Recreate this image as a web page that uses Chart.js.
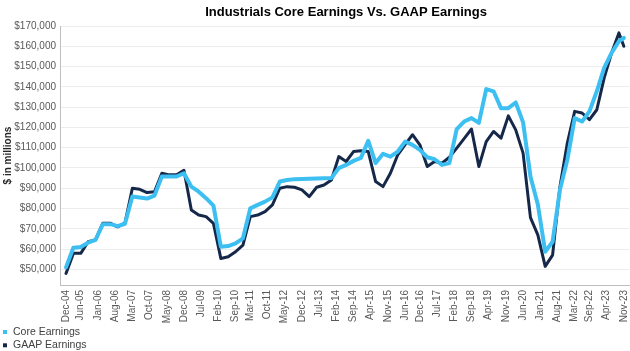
<!DOCTYPE html>
<html><head><meta charset="utf-8">
<script src="https://cdn.jsdelivr.net/npm/chart.js@4.4.0/dist/chart.umd.min.js"></script>
<style>html,body{margin:0;padding:0;background:#fff}#wrap{width:630px;height:351px}</style>
</head><body><div id="wrap"><canvas id="c" width="630" height="351"></canvas></div>
<script>
const chartTitle = 'Industrials Core Earnings Vs. GAAP Earnings';
const yAxisTitle = '$ in millions';
const seriesNames = ['Core Earnings', 'GAAP Earnings'];

const dates = [
 'Dec-04',
 'Mar-05','Jun-05','Sep-05','Dec-05','Mar-06','Jun-06','Sep-06','Dec-06',
 'Mar-07','Jun-07','Sep-07','Dec-07','Mar-08','Jun-08','Sep-08','Dec-08',
 'Mar-09','Jun-09','Sep-09','Dec-09','Mar-10','Jun-10','Sep-10','Dec-10',
 'Mar-11','Jun-11','Sep-11','Dec-11','Mar-12','Jun-12','Sep-12','Dec-12',
 'Mar-13','Jun-13','Sep-13','Dec-13','Mar-14','Jun-14','Sep-14','Dec-14',
 'Mar-15','Jun-15','Sep-15','Dec-15','Mar-16','Jun-16','Sep-16','Dec-16',
 'Mar-17','Jun-17','Sep-17','Dec-17','Mar-18','Jun-18','Sep-18','Dec-18',
 'Mar-19','Jun-19','Sep-19','Dec-19','Mar-20','Jun-20','Sep-20','Dec-20',
 'Mar-21','Jun-21','Sep-21','Dec-21','Mar-22','Jun-22','Sep-22','Dec-22',
 'Mar-23','Jun-23','Sep-23','Nov-23'
];

const coreEarnings = [51000,60700,61000,63200,64500,72300,72300,71300,72500,85900,
 85400,84900,86400,95800,95800,95800,97400,90800,88300,85100,
 81400,61200,61500,62800,65300,80100,81800,83400,85500,93300,
 94100,94500,94600,94700,94800,94900,95000,99900,101500,103500,
 105000,113400,102400,107000,105600,108100,113000,111400,108900,105300,
 104300,101500,102400,119200,122900,124600,122200,138900,137800,129500,
 129500,132300,122500,95800,82000,58700,63600,89200,104000,124600,
 122900,127900,137800,149400,156700,162500,164100];

const gaapEarnings = [48000,57900,57900,63600,64500,72800,72800,71000,72800,90000,
 89500,87900,88300,97400,96600,96600,98900,79300,76800,76000,
 72700,55400,56200,58700,62000,76000,76800,78500,81800,90000,
 90800,90500,89200,85900,90500,91600,94100,105600,103200,108100,
 108500,108100,93300,90800,97400,106500,111500,116400,111400,100700,
 103200,102400,105300,109800,114500,119200,100700,113000,118000,114700,
 125700,118800,107300,75500,67000,51500,57000,90800,112300,127900,
 127100,123800,128700,144400,156700,166600,160000];

const xTickLabels = ['Dec-04','Jun-05','Jan-06','Aug-06','Mar-07','Oct-07','May-08','Dec-08',
 'Jul-09','Feb-10','Sep-10','Mar-11','Oct-11','May-12','Dec-12','Jul-13','Feb-14','Sep-14',
 'Apr-15','Nov-15','Jun-16','Dec-16','Jul-17','Feb-18','Sep-18','Apr-19','Nov-19','Jun-20',
 'Jan-21','Aug-21','Mar-22','Sep-22','Apr-23','Nov-23'];

const yTickValues = [50000,60000,70000,80000,90000,100000,110000,120000,130000,140000,150000,160000,170000];

const CORE_COLOR = '#3DBFF2';
const GAAP_COLOR = '#16284A';
const FONT = '"Liberation Sans", Arial, sans-serif';

const MONTHS = ['Jan','Feb','Mar','Apr','May','Jun','Jul','Aug','Sep','Oct','Nov','Dec'];
function monthIdx(s){
  const m = MONTHS.indexOf(s.slice(0,3));
  const y = 2000 + parseInt(s.slice(4), 10);
  return (y - 2004) * 12 + m - 11;
}
const xs = dates.map(monthIdx);
const tickLookup = {};
xTickLabels.forEach(l => { tickLookup[monthIdx(l)] = l; });

const titlePlugin = {
  id: 'customTitle',
  afterDraw(chart){
    const c = chart.ctx;
    c.save();
    c.font = 'bold 13px ' + FONT;
    c.fillStyle = '#000000';
    c.textAlign = 'center';
    c.textBaseline = 'middle';
    c.fillText(chartTitle, 346, 12);
    c.restore();
  }
};

const legendPlugin = {
  id: 'customLegend',
  afterDraw(chart){
    const c = chart.ctx;
    c.save();
    c.font = '10.5px ' + FONT;
    c.textBaseline = 'middle';
    c.textAlign = 'left';
    chart.data.datasets.forEach((ds, i) => {
      const y = 332 + i * 13.3;
      c.fillStyle = ds.borderColor;
      c.fillRect(3, y - 2, 4, 4);
      c.fillStyle = '#404040';
      c.fillText(ds.label, 13, y);
    });
    c.restore();
  }
};

new Chart(document.getElementById('c'), {
  type: 'line',
  data: {
    datasets: [
      { label: seriesNames[0], data: xs.map((x, i) => ({x: x, y: coreEarnings[i]})),
        borderColor: CORE_COLOR, backgroundColor: CORE_COLOR, borderWidth: 4, pointRadius: 0,
        tension: 0, borderJoinStyle: 'round', borderCapStyle: 'round', fill: false },
      { label: seriesNames[1], data: xs.map((x, i) => ({x: x, y: gaapEarnings[i]})),
        borderColor: GAAP_COLOR, backgroundColor: GAAP_COLOR, borderWidth: 3, pointRadius: 0,
        tension: 0, borderJoinStyle: 'round', borderCapStyle: 'round', fill: false }
    ]
  },
  options: {
    responsive: false,
    animation: false,
    devicePixelRatio: 1,
    layout: { padding: { top: 26, right: 1, bottom: 26, left: 0 } },
    plugins: { legend: { display: false }, title: { display: false }, tooltip: { enabled: false } },
    scales: {
      x: {
        type: 'linear', bounds: 'data', min: -2.44, max: 229.1,
        grid: { display: false, drawTicks: false },
        border: { display: true, color: '#bfbfbf', width: 1 },
        afterBuildTicks: s => { s.ticks = xTickLabels.map(l => ({ value: monthIdx(l) })); },
        ticks: { autoSkip: false, maxRotation: 90, minRotation: 90, padding: 5,
          font: { family: FONT, size: 10 }, color: '#595959',
          callback: v => tickLookup[v] || '' },
        afterFit: s => { s.height = 40; s.paddingLeft = 0; s.paddingRight = 0; }
      },
      y: {
        type: 'linear', bounds: 'data', min: 42300, max: 170000,
        afterBuildTicks: s => { s.ticks = yTickValues.map(v => ({ value: v })); },
        grid: { color: '#ececec', drawTicks: false },
        border: { display: true, color: '#bfbfbf', width: 1 },
        ticks: { padding: 4, font: { family: FONT, size: 10 }, color: '#595959',
          callback: v => '$' + Number(v).toLocaleString('en-US') },
        title: { display: true, text: yAxisTitle, color: '#262626',
          font: { family: FONT, size: 10, weight: 'bold' }, padding: { top: 2, bottom: 0 } },
        afterFit: s => { s.width = 60; }
      }
    }
  },
  plugins: [titlePlugin, legendPlugin]
});
</script></body></html>
